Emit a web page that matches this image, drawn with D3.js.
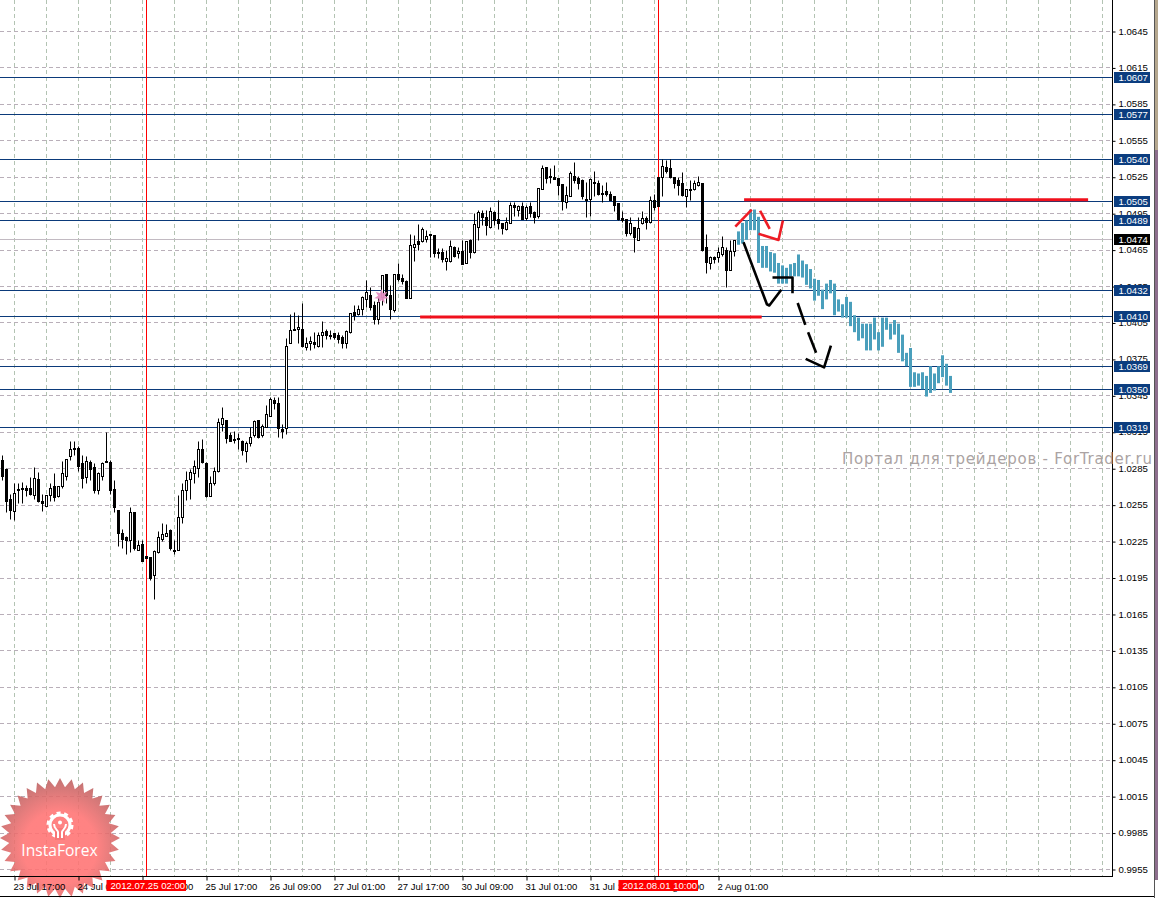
<!DOCTYPE html>
<html><head><meta charset="utf-8">
<style>html,body{margin:0;padding:0;background:#fff;overflow:hidden}svg{display:block}</style>
<script src="https://cdnjs.cloudflare.com/ajax/libs/d3/7.8.5/d3.min.js"></script>
</head><body><div id="chart"></div>
<script>
// Prices are in units of 0.0001
const opens=[10292,10284,10260,10250,10268,10269,10269,10269,10263,10276,
10258,10254,10263,10270,10262,10270,10279,10295,10302,10302,
10289,10278,10290,10286,10267,10279,10291,10290,10268,10251,
10232,10228,10226,10249,10218,10223,10213,10212,10197,10216,
10227,10229,10234,10218,10218,10245,10267,10276,10281,10285,
10301,10289,10262,10273,10283,10321,10325,10312,10309,10310,
10307,10299,10306,10312,10325,10312,10319,10328,10341,10339,
10317,10318,10388,10400,10400,10400,10385,10388,10389,10386,
10395,10398,10395,10396,10395,10393,10388,10397,10414,10412,
10416,10424,10428,10419,10408,10426,10445,10428,10415,10445,
10442,10439,10425,10467,10472,10472,10474,10478,10477,10463,
10463,10456,10456,10467,10462,10464,10454,10473,10463,10484,
10495,10492,10484,10496,10490,10487,10482,10487,10502,10498,
10501,10491,10501,10496,10493,10515,10533,10526,10525,10524,
10519,10504,10509,10526,10524,10522,10507,10507,10521,10520,
10512,10513,10511,10509,10503,10491,10490,10479,10484,10473,
10487,10491,10488,10506,10525,10525,10533,10532,10525,10522,
10520,10509,10514,10515,10518,10520,10467,10454,10459,10459,
10461,10465,10448,10464];
const closes=[10279,10258,10251,10265,10267,10268,10267,10264,10277,10258,
10256,10263,10269,10261,10270,10281,10293,10301,10301,10287,
10277,10291,10284,10267,10281,10289,10290,10267,10253,10232,
10227,10226,10249,10219,10222,10209,10211,10195,10217,10228,
10231,10232,10219,10217,10245,10267,10275,10282,10287,10301,
10290,10262,10273,10283,10323,10326,10310,10307,10308,10309,
10300,10306,10311,10324,10311,10320,10330,10342,10339,10318,
10316,10386,10399,10399,10401,10386,10388,10390,10387,10395,
10397,10395,10394,10393,10391,10388,10398,10413,10411,10416,
10426,10430,10418,10408,10422,10444,10428,10416,10445,10441,
10439,10425,10469,10470,10470,10482,10476,10477,10462,10462,
10457,10458,10468,10460,10464,10453,10472,10463,10486,10496,
10492,10485,10497,10489,10487,10483,10488,10502,10500,10501,
10490,10500,10495,10492,10516,10532,10524,10525,10523,10518,
10505,10510,10528,10522,10520,10509,10506,10523,10520,10511,
10511,10511,10506,10502,10490,10489,10479,10487,10475,10483,
10491,10488,10506,10500,10501,10534,10530,10525,10520,10518,
10510,10515,10515,10520,10521,10465,10455,10459,10457,10463,
10467,10448,10464,10473];
const highs=[10296,10285,10264,10273,10273,10274,10271,10278,10286,10282,
10264,10263,10273,10281,10270,10291,10293,10307,10307,10303,
10296,10295,10292,10289,10282,10290,10315,10292,10275,10251,
10235,10229,10253,10249,10226,10226,10213,10212,10218,10233,
10240,10239,10235,10226,10263,10273,10283,10284,10292,10307,
10309,10290,10279,10286,10326,10335,10325,10315,10316,10314,
10308,10307,10319,10325,10325,10321,10337,10344,10344,10344,
10321,10392,10412,10414,10411,10421,10393,10394,10397,10397,
10406,10400,10399,10396,10397,10395,10399,10413,10419,10419,
10427,10440,10434,10423,10426,10444,10445,10436,10445,10454,
10445,10440,10478,10477,10486,10484,10481,10478,10477,10466,
10466,10465,10473,10468,10467,10473,10472,10474,10495,10498,
10498,10498,10500,10497,10506,10487,10492,10504,10504,10502,
10504,10502,10504,10497,10516,10535,10533,10532,10535,10524,
10519,10517,10530,10537,10526,10523,10521,10524,10530,10522,
10518,10521,10513,10509,10503,10497,10490,10492,10484,10492,
10497,10493,10509,10511,10525,10540,10539,10540,10525,10525,
10529,10515,10522,10522,10526,10520,10478,10460,10460,10467,
10476,10467,10473,10473];
const lows=[10275,10249,10243,10242,10256,10256,10262,10263,10260,10257,
10250,10254,10258,10258,10261,10269,10275,10292,10296,10283,
10269,10273,10275,10265,10264,10275,10290,10264,10249,10221,
10219,10214,10216,10218,10218,10209,10211,10193,10177,10215,
10225,10229,10218,10214,10218,10240,10259,10260,10273,10278,
10289,10261,10262,10271,10282,10316,10306,10307,10306,10301,
10296,10290,10303,10311,10310,10311,10319,10328,10334,10311,
10310,10313,10388,10399,10388,10385,10382,10382,10384,10385,
10385,10391,10391,10391,10388,10384,10384,10396,10407,10411,
10411,10418,10415,10404,10404,10419,10421,10408,10414,10439,
10437,10425,10425,10456,10465,10471,10471,10459,10459,10458,
10455,10448,10455,10459,10458,10453,10454,10458,10462,10473,
10485,10477,10483,10485,10482,10478,10481,10487,10493,10493,
10490,10489,10492,10487,10491,10515,10520,10520,10523,10510,
10498,10499,10509,10520,10515,10507,10492,10493,10509,10510,
10504,10509,10506,10497,10489,10488,10476,10477,10463,10473,
10486,10482,10487,10498,10501,10509,10528,10524,10516,10510,
10509,10500,10506,10514,10517,10464,10446,10449,10454,10455,
10460,10434,10448,10460];
// Forecast bars continue after the candles
const forecastStart=184;
const forecastHighs=[10480,10487,10489,10498,10498,10492,10468,10468,10463,10462,
10454,10452,10450,10453,10454,10461,10456,10453,10449,10441,
10440,10432,10437,10440,10437,10424,10420,10426,10422,10411,
10409,10404,10404,10404,10409,10397,10409,10409,10404,10407,
10404,10395,10380,10384,10364,10363,10364,10361,10369,10363,
10369,10378,10371,10361];
const forecastLows=[10469,10470,10473,10481,10481,10454,10450,10450,10447,10446,
10437,10437,10437,10443,10443,10443,10442,10436,10433,10423,
10427,10416,10424,10429,10411,10414,10409,10409,10402,10397,
10390,10392,10382,10382,10391,10382,10385,10399,10391,10395,
10380,10373,10369,10352,10352,10353,10350,10344,10347,10349,
10355,10360,10353,10347];
const levels=[10607,10577,10540,10505,10489,10432,10410,10369,10350,10319];
const currentPrice=10474;
const priceTicks=[10645,10615,10585,10555,10525,10495,10465,10435,10405,10375,10345,10315,10285,10255,10225,10195,10165,10135,10105,10075,10045,10015,9985,9955];
const timeTickBars=[3,19,35,51,67,83,99,115,131,147,163,179];
const timeTickLabels=["23 Jul 17:00","24 Jul 09:00","25 Jul 01:00","25 Jul 17:00","26 Jul 09:00","27 Jul 01:00","27 Jul 17:00","30 Jul 09:00","31 Jul 01:00","31 Jul 17:00","1 Aug 09:00","2 Aug 01:00"];
const markerBars=[36,164];
const markerLabels=["2012.07.25 02:00","2012.08.01 10:00"];
// Hand-drawn annotations: [bar, price]
const redSegments=[[[185.4,10506],[271.4,10506]],[[104.4,10409.5],[189.8,10409.5]]];
const redStrokes=[[[183.2,10484],[187.3,10498]],[[189.4,10497],[191.8,10482]],[[189,10478],[194,10473],[195.1,10489]]];
const blackStrokes=[[[185.25,10471],[191.1,10420],[191.7,10419],[194.7,10432]],[[192.5,10442],[197.5,10442],[197.5,10429]],[[198.8,10421],[200.7,10403]],[[201.4,10397],[203.4,10380]],[[200.8,10375],[205.4,10368],[207.1,10386]]];

const W=1158,H=898,axisX=1112,axisY=876;
const svg=d3.select("#chart").append("svg").attr("width",W).attr("height",H).attr("viewBox",`0 0 ${W} ${H}`);
const defs=svg.append("defs");
const x=d3.scaleLinear().domain([0,1]).range([2.5,6.5]);
const y=d3.scaleLinear().domain([9955,10645]).range([869,31]);
const py=p=>Math.round(y(p))+0.5;
const fontAxis="'Liberation Sans',Arial,sans-serif";

svg.append("rect").attr("width",W).attr("height",H).attr("fill","#fff");
// right edge strip
svg.append("rect").attr("x",1155).attr("y",0).attr("width",3).attr("height",150).attr("fill","#b5a78e");
svg.append("rect").attr("x",1155).attr("y",150).attr("width",3).attr("height",730).attr("fill","#8d6f8d");
svg.append("line").attr("x1",1154.5).attr("x2",1154.5).attr("y1",0).attr("y2",H).attr("stroke","#555");

// grid
const gridBars=d3.range(3,3+8*35,8);
svg.append("g").selectAll("line").data(gridBars).join("line")
 .attr("x1",d=>x(d)).attr("x2",d=>x(d)).attr("y1",0).attr("y2",axisY)
 .attr("stroke","#b3c3b3").attr("stroke-dasharray","4 3");
svg.append("g").selectAll("line").data(priceTicks).join("line")
 .attr("x1",0).attr("x2",axisX).attr("y1",py).attr("y2",py)
 .attr("stroke","#b9afb9").attr("stroke-dasharray","4 3");

// logo
const grad=defs.append("radialGradient").attr("id","lg").attr("cx",.5).attr("cy",.58).attr("r",.56);
grad.append("stop").attr("offset","55%").attr("stop-color","#ff7272");
grad.append("stop").attr("offset","100%").attr("stop-color","#bf6262");
const logo=svg.append("g").attr("transform","translate(60,838)");
const teeth=32;
const star=d3.lineRadial().angle((d,k)=>k*Math.PI/teeth).radius((d,k)=>k%2?51:60).curve(d3.curveLinearClosed);
logo.append("path").attr("d",star(d3.range(teeth*2))).attr("fill","url(#lg)").attr("opacity",.88);
const gear=logo.append("g").attr("transform","translate(0,-13)").attr("fill","none").attr("stroke","#fff");
gear.append("circle").attr("r",10).attr("stroke-width",3);
gear.append("circle").attr("r",12).attr("stroke-width",3).attr("stroke-dasharray","4 3.54");
gear.append("rect").attr("x",-5).attr("y",3).attr("width",10).attr("height",12).attr("fill","#f87777").attr("stroke","none");
gear.append("circle").attr("cy",-2.5).attr("r",2).attr("fill","#fff").attr("stroke","none");
gear.append("path").attr("d","M-6,-1 C-6,4 -2,5 -2,7 V13 M6,-1 C6,4 2,5 2,7 V13").attr("stroke-width",2);
logo.append("text").attr("x",-0.5).attr("y",18).attr("text-anchor","middle").attr("fill","#fff").attr("font-family","'Open Sans',sans-serif").attr("font-size",15.6).text("InstaForex");

// level lines
svg.append("line").attr("x1",0).attr("x2",axisX).attr("y1",py(currentPrice)).attr("y2",py(currentPrice)).attr("stroke","#c2bac2");
svg.append("g").selectAll("line").data(levels).join("line")
 .attr("x1",0).attr("x2",axisX).attr("y1",py).attr("y2",py).attr("stroke","#0b3a7a");

// markers
svg.append("g").selectAll("line").data(markerBars).join("line")
 .attr("x1",d=>x(d)).attr("x2",d=>x(d)).attr("y1",0).attr("y2",axisY).attr("stroke","#ff0000");

// candles
const candles=d3.range(opens.length).map(i=>({i,o:opens[i],c:closes[i],h:highs[i],l:lows[i]}));
const cg=svg.append("g").selectAll("g").data(candles).join("g");
cg.append("line").attr("x1",d=>x(d.i)).attr("x2",d=>x(d.i)).attr("y1",d=>py(d.h)).attr("y2",d=>py(d.l)).attr("stroke","#000");
cg.append("rect").attr("x",d=>x(d.i)-1).attr("width",2)
 .attr("y",d=>py(Math.max(d.o,d.c)))
 .attr("height",d=>Math.max(1,py(Math.min(d.o,d.c))-py(Math.max(d.o,d.c))))
 .attr("fill",d=>d.c>d.o?"#fff":"#000").attr("stroke","#000");

// forecast bars
svg.append("g").selectAll("rect").data(forecastHighs.map((h,k)=>({i:forecastStart+k,h,l:forecastLows[k]}))).join("rect")
 .attr("x",d=>x(d.i)-1.5).attr("width",3).attr("y",d=>y(d.h)).attr("height",d=>y(d.l)-y(d.h)).attr("fill","#4a9fbc");

// annotations
const ln=d3.line().x(d=>x(d[0])).y(d=>y(d[1]));
svg.append("g").selectAll("path").data(redSegments).join("path").attr("d",ln).attr("fill","none").attr("stroke","#f0101c").attr("stroke-width",3);
svg.append("g").selectAll("path").data(redStrokes).join("path").attr("d",ln).attr("fill","none").attr("stroke","#ee1c25").attr("stroke-width",2.6).attr("stroke-linejoin","round");
svg.append("g").selectAll("path").data(blackStrokes).join("path").attr("d",ln).attr("fill","none").attr("stroke","#000").attr("stroke-width",2.6).attr("stroke-linejoin","round");

// small pink burst
const burst=d3.lineRadial().angle((d,k)=>k*Math.PI/7).radius((d,k)=>k%2?3.5:7.5).curve(d3.curveLinearClosed);
svg.append("path").attr("d",burst(d3.range(14))).attr("transform","translate(381.5,296.5)").attr("fill","#e48fc2").attr("opacity",.95);

// axes
const yAxis=d3.axisRight(y).tickValues(priceTicks).tickSize(3).tickFormat(d=>(d/1e4).toFixed(4));
const ya=svg.append("g").attr("transform",`translate(${axisX+.5},0)`).call(yAxis);
ya.select(".domain").remove();
ya.selectAll("line").attr("stroke","#000").attr("y1",.5).attr("y2",.5);
ya.selectAll("text").attr("x",6).attr("fill","#000").attr("font-family",fontAxis).attr("font-size",9.6);
svg.append("line").attr("x1",axisX+.5).attr("x2",axisX+.5).attr("y1",0).attr("y2",axisY+1).attr("stroke","#000");

const xAxis=d3.axisBottom(x).tickValues(timeTickBars).tickSize(4).tickFormat(d=>timeTickLabels[timeTickBars.indexOf(d)]);
const xa=svg.append("g").attr("transform",`translate(0,${axisY+.5})`).call(xAxis);
xa.select(".domain").remove();
xa.selectAll("line").attr("stroke","#000");
xa.selectAll("text").attr("text-anchor","start").attr("x",-1.5).attr("y",6.5).attr("dy",".71em").attr("fill","#000").attr("font-family",fontAxis).attr("font-size",9.5);
svg.append("line").attr("x1",0).attr("x2",axisX+1).attr("y1",axisY+.5).attr("y2",axisY+.5).attr("stroke","#000");
svg.append("line").attr("x1",0).attr("x2",1154).attr("y1",896.5).attr("y2",896.5).attr("stroke","#000");

// price labels
const tags=levels.map(v=>({v,f:"#0b3d7f"})).concat([{v:currentPrice,f:"#000"}]);
const tg=svg.append("g").selectAll("g").data(tags).join("g").attr("transform",d=>`translate(1114,${py(d.v)-5.5})`);
tg.append("rect").attr("width",36).attr("height",11).attr("fill",d=>d.f);
tg.append("text").attr("x",4.5).attr("y",9).attr("fill","#fff").attr("font-family",fontAxis).attr("font-size",9.6).text(d=>(d.v/1e4).toFixed(4));

// time flags
const fl=svg.append("g").selectAll("g").data(markerBars).join("g").attr("transform",d=>`translate(${x(d)-40},880)`);
fl.append("rect").attr("width",79.5).attr("height",11).attr("fill","#ff0000");
fl.append("text").attr("x",4).attr("y",9).attr("fill","#fff").attr("font-family",fontAxis).attr("font-size",9.6).text((d,k)=>markerLabels[k]);

// watermark
svg.append("text").attr("x",842).attr("y",464).attr("font-family","'DejaVu Sans',sans-serif").attr("font-size",15).attr("fill","#aba3a3").attr("textLength",310).text("Портал для трейдеров - ForTrader.ru");
</script></body></html>
